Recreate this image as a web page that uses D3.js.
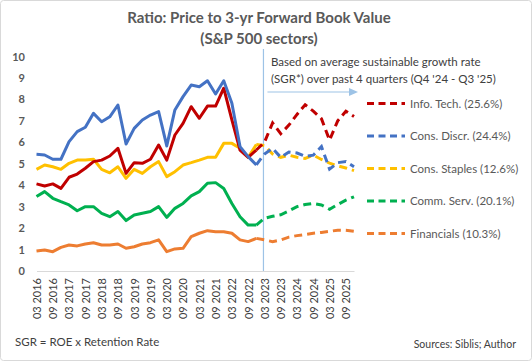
<!DOCTYPE html>
<html>
<head>
<meta charset="utf-8">
<script src="https://cdn.jsdelivr.net/npm/d3@7"></script>
<style>
body { margin: 0; background: #fff; }
svg { font-family: Lato, "Open Sans", sans-serif; }
</style>
</head>
<body>
<div class="pb-chart"></div>
<script>
// DATA - quarterly, 03 2016 .. 12 2025
const months = ['03', '06', '09', '12'];
const years = [2016, 2017, 2018, 2019, 2020, 2021, 2022, 2023, 2024, 2025];
const quarters = years.flatMap(y => months.map(m => m + ' ' + y));
const yTicks = [0, 1, 2, 3, 4, 5, 6, 7, 8, 9, 10];

const infoTech   = [4.06,3.96,4.06,3.85,4.37,4.52,4.79,5.10,5.17,5.36,5.72,4.55,5.05,5.02,5.21,5.87,5.17,6.34,6.88,7.66,7.12,7.69,7.69,8.52,7.04,5.64,5.30,5.64,6.00,6.90,6.40,6.80,7.30,7.75,7.45,7.10,6.10,7.00,7.45,7.20];
const consDiscr  = [5.44,5.41,5.21,5.21,6.03,6.50,6.70,7.35,6.96,7.19,7.74,5.92,6.65,7.04,7.27,7.43,5.83,7.51,8.13,8.67,8.59,8.87,8.25,8.87,7.82,5.80,5.33,4.95,5.45,5.72,5.30,5.55,5.50,5.35,5.40,5.80,4.75,5.05,5.10,4.86];
const consStaples= [4.74,4.94,4.86,4.74,5.02,5.17,5.17,5.21,4.74,4.58,4.86,4.32,4.74,4.55,4.86,5.10,4.40,4.63,4.94,5.05,5.17,5.30,5.30,5.95,5.95,5.72,5.30,5.90,5.85,5.45,5.30,5.40,5.30,5.25,5.40,5.20,5.03,4.90,4.80,4.68];
const commServ   = [3.47,3.70,3.39,3.23,3.08,2.81,3.00,3.00,2.69,2.53,2.77,2.35,2.61,2.69,2.77,3.00,2.50,2.92,3.15,3.50,3.70,4.09,4.12,3.85,3.15,2.53,2.14,2.14,2.46,2.55,2.62,2.80,3.00,3.10,3.15,3.08,2.88,3.10,3.30,3.46];
const financials = [0.93,0.98,0.90,1.10,1.21,1.17,1.26,1.32,1.21,1.21,1.26,1.06,1.13,1.26,1.32,1.45,0.90,1.03,1.06,1.60,1.76,1.88,1.83,1.83,1.76,1.45,1.37,1.52,1.45,1.37,1.45,1.58,1.65,1.70,1.76,1.80,1.85,1.90,1.90,1.85];

const seriesNames = ['Info. Tech. (25.6%)', 'Cons. Discr. (24.4%)', 'Cons. Staples (12.6%)', 'Comm. Serv. (20.1%)', 'Financials (10.3%)'];
const seriesValues = [infoTech, consDiscr, consStaples, commServ, financials];
const colors = ['#C00000', '#4472C4', '#FFC000', '#00B050', '#ED7D31'];
const splitIndex = 27;          // last actual quarter, projection starts here
const projStart = '03 2023';    // marker line

const titleLines = ['Ratio: Price to 3-yr Forward Book Value', '(S&P 500 sectors)'];
const noteLines = ['Based on average sustainable growth rate', "(SGR*) over past 4 quarters (Q4 '24 - Q3 '25)"];

// CHART INIT
const W = 532, H = 361;
const svg = d3.select('.pb-chart').append('svg')
    .attr('width', W)
    .attr('height', H);

svg.append('rect')
    .attr('x', 0.5).attr('y', 0.5)
    .attr('width', W - 1).attr('height', H - 1)
    .attr('rx', 3)
    .attr('fill', '#fff')
    .attr('stroke', '#d9d9d9');

const xScale = d3.scalePoint()
    .domain(quarters)
    .range([36.5, 354]);

const yScale = d3.scaleLinear()
    .domain([0, 10])
    .range([271, 56.5]);

// title
svg.append('text')
    .attr('text-anchor', 'middle')
    .attr('fill', '#595959')
    .attr('font-weight', 'bold')
    .attr('font-size', 15)
    .selectAll('tspan')
    .data(titleLines)
    .join('tspan')
    .attr('x', 259)
    .attr('y', (d, i) => 23 + i * 21)
    .text(d => d);

// axes
const xAxis = d3.axisBottom(xScale)
    .tickValues(quarters.filter((d, i) => i % 2 == 0))
    .tickSize(0)
    .tickPadding(6);
const gx = svg.append('g')
    .attr('class', 'axis x-axis')
    .attr('transform', `translate(0, ${yScale(0)})`)
    .call(xAxis);
gx.select('.domain').attr('stroke', '#d9d9d9');
gx.selectAll('text')
    .attr('transform', 'rotate(-90)')
    .attr('text-anchor', 'end')
    .attr('x', -7)
    .attr('y', 0)
    .attr('dy', '0.35em')
    .attr('fill', '#404040')
    .attr('font-size', 11)
    .attr('font-family', 'Lato, sans-serif');

const yAxis = d3.axisLeft(yScale)
    .tickValues(yTicks)
    .tickSize(0)
    .tickPadding(0);
const gy = svg.append('g')
    .attr('class', 'axis y-axis')
    .attr('transform', 'translate(25,0)')
    .call(yAxis);
gy.select('.domain').remove();
gy.selectAll('text')
    .attr('fill', '#595959')
    .attr('font-weight', 'bold')
    .attr('font-size', 11)
    .attr('font-family', 'Lato, sans-serif');

// projection marker + note
const markerX = xScale(projStart) - 1;
svg.append('line')
    .attr('x1', markerX).attr('x2', markerX)
    .attr('y1', 49).attr('y2', yScale(0))
    .attr('stroke', '#9dc3e6')
    .attr('stroke-width', 1.2);

svg.append('text')
    .attr('fill', '#404040')
    .attr('font-size', 11.5)
    .selectAll('tspan')
    .data(noteLines)
    .join('tspan')
    .attr('x', 271)
    .attr('y', (d, i) => 66 + i * 16.5)
    .text(d => d);

svg.append('line')
    .attr('x1', markerX + 4).attr('x2', 350)
    .attr('y1', 92).attr('y2', 92)
    .attr('stroke', '#9dc3e6')
    .attr('stroke-width', 1.2);
svg.append('path')
    .attr('d', 'M349,88 L358,92 L349,96 Z')
    .attr('fill', '#9dc3e6');

// lines
const line = d3.line()
    .x(d => xScale(d.q))
    .y(d => yScale(d.v));

const drawOrder = [4, 3, 2, 0, 1];
drawOrder.forEach(k => {
    const pts = seriesValues[k].map((v, i) => ({q: quarters[i], v: v}));
    svg.append('path')
        .datum(pts.slice(0, splitIndex + 1))
        .attr('fill', 'none')
        .attr('stroke', colors[k])
        .attr('stroke-width', 3)
        .attr('stroke-linejoin', 'round')
        .attr('d', line);
    svg.append('path')
        .datum(pts.slice(splitIndex))
        .attr('fill', 'none')
        .attr('stroke', colors[k])
        .attr('stroke-width', 3)
        .attr('stroke-dasharray', '8,5')
        .attr('d', line);
});

// legend
const legend = svg.append('g').attr('class', 'legend');
seriesNames.forEach((name, k) => {
    const ly = 103.5 + k * 32.5;
    legend.append('line')
        .attr('x1', 367).attr('x2', 405)
        .attr('y1', ly).attr('y2', ly)
        .attr('stroke', colors[k])
        .attr('stroke-width', 3)
        .attr('stroke-dasharray', '7,4.5');
    legend.append('text')
        .attr('x', 410)
        .attr('y', ly)
        .attr('dy', '0.35em')
        .attr('fill', '#595959')
        .attr('font-size', 11.5)
        .text(name);
});

// footnotes
svg.append('text')
    .attr('x', 15).attr('y', 346)
    .attr('fill', '#404040')
    .attr('font-size', 11.5)
    .text('SGR = ROE x Retention Rate');
svg.append('text')
    .attr('x', 516).attr('y', 348)
    .attr('text-anchor', 'end')
    .attr('fill', '#404040')
    .attr('font-size', 10.5)
    .text('Sources: Siblis; Author');
</script>
</body>
</html>
